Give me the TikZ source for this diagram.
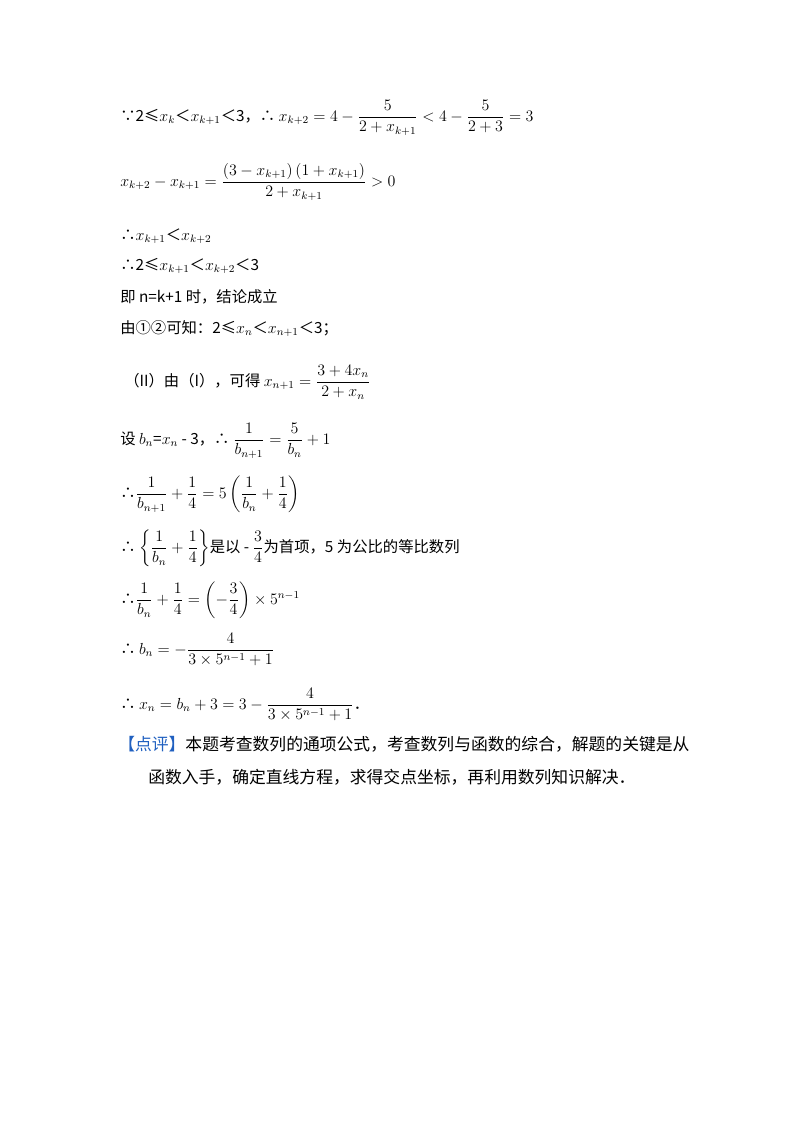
\documentclass[tikz,border=0pt]{standalone}
\usepackage{amsmath,amssymb}
\usepackage{fontspec}
\setmainfont{Noto Sans CJK SC}
\begin{document}
\begin{tikzpicture}[x=0.75pt,y=-0.75pt,
  ln/.style={anchor=base west,inner sep=0pt,font=\fontsize{11.5}{13}\selectfont}]
\useasboundingbox (0,0) rectangle (800,1133);
\node[ln] (l1) at (120,121) {∵2≤$x_k$＜$x_{k+1}$＜3，∴ $x_{k+2}=4-\dfrac{5}{2+x_{k+1}}<4-\dfrac{5}{2+3}=3$};
\node[ln] (l2) at (120,186) {$x_{k+2}-x_{k+1}=\dfrac{(3-x_{k+1})\,(1+x_{k+1})}{2+x_{k+1}}>0$};
\node[ln] (l3) at (120,240) {∴$x_{k+1}$＜$x_{k+2}$};
\node[ln] (l4) at (120,270) {∴2≤$x_{k+1}$＜$x_{k+2}$＜3};
\node[ln] (l5) at (120,302) {即 n=k+1 时，结论成立};
\node[ln] (l6) at (120,333) {由①②可知：2≤$x_n$＜$x_{n+1}$＜3；};
\node[ln] (l7) at (124,386) {（II）由（I），可得 $x_{n+1}=\dfrac{3+4x_n}{2+x_n}$};
\node[ln] (l8) at (120,444) {设 $b_n$=$x_n$ - 3，∴ $\dfrac{1}{b_{n+1}}=\dfrac{5}{b_n}+1$};
\node[ln] (l9) at (120,498) {∴$\dfrac{1}{b_{n+1}}+\dfrac{1}{4}=5\left(\dfrac{1}{b_n}+\dfrac{1}{4}\right)$};
\node[ln] (l10) at (120,552) {∴ $\left\{\dfrac{1}{b_n}+\dfrac{1}{4}\right\}$是以 - $\dfrac{3}{4}$为首项，5 为公比的等比数列};
\node[ln] (l11) at (120,604) {∴$\dfrac{1}{b_n}+\dfrac{1}{4}=\left(-\dfrac{3}{4}\right)\times 5^{n-1}$};
\node[ln] (l12) at (120,654) {∴ $b_n=-\dfrac{4}{3\times 5^{n-1}+1}$};
\node[ln] (l13) at (120,709) {∴ $x_n=b_n+3=3-\dfrac{4}{3\times 5^{n-1}+1}$．};
\node[ln,font=\fontsize{12.6}{14}\selectfont] (l14) at (118,750) {\textcolor[HTML]{2060C0}{【点评】}本题考查数列的通项公式，考查数列与函数的综合，解题的关键是从};
\node[ln,font=\fontsize{12.6}{14}\selectfont] (l15) at (148,783) {函数入手，确定直线方程，求得交点坐标，再利用数列知识解决．};
\end{tikzpicture}
\end{document}
